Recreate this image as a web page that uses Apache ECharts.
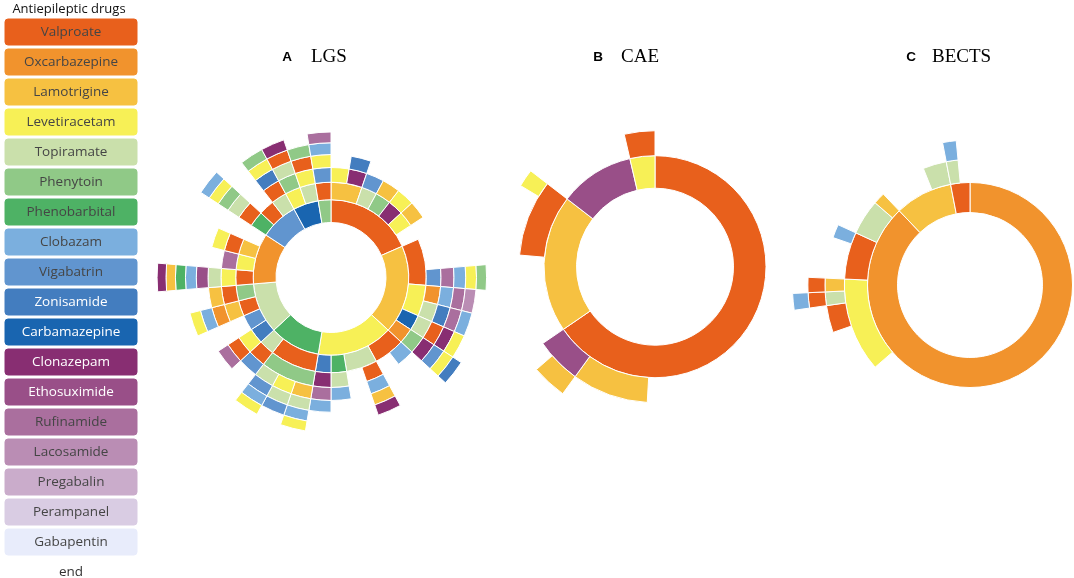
<!DOCTYPE html>
<html>
<head>
<meta charset="utf-8">
<script src="https://cdn.jsdelivr.net/npm/echarts/dist/echarts.min.js"></script>
<style>
  body { margin: 0; background: #fff; }
  #chart { width: 1074px; height: 578px; }
</style>
</head>
<body>
<div id="chart"></div>
<script>
// drug names and colours, in legend order
var drugs = ['Valproate', 'Oxcarbazepine', 'Lamotrigine', 'Levetiracetam', 'Topiramate', 'Phenytoin',
  'Phenobarbital', 'Clobazam', 'Vigabatrin', 'Zonisamide', 'Carbamazepine', 'Clonazepam',
  'Ethosuximide', 'Rufinamide', 'Lacosamide', 'Pregabalin', 'Perampanel', 'Gabapentin'];
var drugColors = ['#E8601C', '#F1932D', '#F6C141', '#F7F056', '#CAE0AB', '#90C987',
  '#4EB265', '#7BAFDE', '#6195CF', '#437DBF', '#1965B0', '#882E72',
  '#994F88', '#AA6F9E', '#BA8DB4', '#CAACCB', '#D9CCE3', '#E8ECFB'];
var whiteText = ['Zonisamide', 'Carbamazepine', 'Clonazepam', 'Ethosuximide'];

// treatment sequences (clockwise from 12 o'clock) and number of patients
var lgsRows = [
  ['Valproate-Lamotrigine-Levetiracetam-end', 1],
  ['Valproate-Lamotrigine-Clonazepam-Zonisamide-end', 1],
  ['Valproate-Topiramate-Vigabatrin-end', 1],
  ['Valproate-Phenytoin-Lamotrigine-end', 1],
  ['Valproate-Clonazepam-Levetiracetam-end', 1],
  ['Valproate-Levetiracetam-Lamotrigine-end', 1],
  ['Valproate-end', 1],
  ['Lamotrigine-Valproate-end', 2],
  ['Lamotrigine-Valproate-Vigabatrin-Rufinamide-Clobazam-Levetiracetam-Phenytoin-end', 1],
  ['Lamotrigine-Levetiracetam-Oxcarbazepine-Clobazam-Rufinamide-Lacosamide-end', 1],
  ['Lamotrigine-Levetiracetam-Topiramate-Zonisamide-Rufinamide-Clobazam-end', 1],
  ['Lamotrigine-Carbamazepine-Topiramate-Valproate-Clonazepam-Levetiracetam-end', 1],
  ['Lamotrigine-Oxcarbazepine-Phenytoin-Clonazepam-Vigabatrin-Levetiracetam-Zonisamide-end', 1],
  ['Levetiracetam-Valproate-Clobazam-end', 1],
  ['Levetiracetam-Valproate-end', 1],
  ['Levetiracetam-Topiramate-Valproate-Clobazam-Lamotrigine-Clonazepam-end', 1],
  ['Levetiracetam-Topiramate-end', 1],
  ['Levetiracetam-Phenobarbital-Topiramate-Clobazam-end', 1],
  ['Levetiracetam-Zonisamide-Clonazepam-Rufinamide-Clobazam-end', 1],
  ['Phenobarbital-Valproate-Phenytoin-Lamotrigine-Topiramate-Clobazam-Levetiracetam-end', 1],
  ['Phenobarbital-Valproate-Phenytoin-Levetiracetam-Topiramate-Vigabatrin-end', 1],
  ['Phenobarbital-Valproate-Phenytoin-Topiramate-Vigabatrin-Clobazam-Levetiracetam-end', 1],
  ['Phenobarbital-Topiramate-Valproate-Vigabatrin-end', 1],
  ['Topiramate-Zonisamide-Levetiracetam-Valproate-Rufinamide-end', 1],
  ['Topiramate-Vigabatrin-end', 1],
  ['Topiramate-Valproate-Lamotrigine-Oxcarbazepine-Clobazam-Levetiracetam-end', 1],
  ['Topiramate-Phenytoin-Valproate-Lamotrigine-end', 1],
  ['Oxcarbazepine-Valproate-Levetiracetam-Topiramate-Ethosuximide-Clobazam-Phenobarbital-Lamotrigine-Clonazepam', 1],
  ['Oxcarbazepine-Levetiracetam-Rufinamide-end', 1],
  ['Oxcarbazepine-Lamotrigine-Valproate-Levetiracetam-end', 1],
  ['Oxcarbazepine-end', 1],
  ['Vigabatrin-Phenobarbital-Valproate-Topiramate-Phenytoin-Levetiracetam-Clobazam-end', 1],
  ['Vigabatrin-Valproate-end', 1],
  ['Vigabatrin-Topiramate-Valproate-Zonisamide-Levetiracetam-Phenytoin-end', 1],
  ['Carbamazepine-Levetiracetam-Phenytoin-Topiramate-Valproate-Clonazepam-end', 1],
  ['Carbamazepine-Topiramate-Levetiracetam-Valproate-Phenytoin-end', 1],
  ['Phenytoin-Valproate-Vigabatrin-Levetiracetam-Clobazam-Rufinamide-end', 1]
];

var caeRows = [
  ['Valproate-end', 28],
  ['Valproate-Lamotrigine-end', 5],
  ['Valproate-Ethosuximide-Lamotrigine-end', 2],
  ['Valproate-Ethosuximide-end', 1],
  ['Lamotrigine-end', 6],
  ['Lamotrigine-Valproate-end', 4],
  ['Lamotrigine-Valproate-Levetiracetam-end', 1],
  ['Ethosuximide-end', 6],
  ['Levetiracetam-Valproate-end', 2]
];

var bectsRows = [
  ['Oxcarbazepine-end', 42],
  ['Oxcarbazepine-Levetiracetam-end', 4],
  ['Oxcarbazepine-Levetiracetam-Valproate-end', 2],
  ['Oxcarbazepine-Levetiracetam-Topiramate-Valproate-Clobazam-end', 1],
  ['Oxcarbazepine-Levetiracetam-Lamotrigine-Valproate-end', 1],
  ['Oxcarbazepine-Valproate-end', 3],
  ['Oxcarbazepine-Valproate-Clobazam-end', 1],
  ['Oxcarbazepine-Topiramate-end', 3],
  ['Oxcarbazepine-Lamotrigine-end', 1],
  ['Lamotrigine-end', 4],
  ['Lamotrigine-Topiramate-end', 2],
  ['Valproate-Topiramate-Clobazam-end', 1],
  ['Valproate-end', 1]
];

var panelTitles = [['A', 'LGS'], ['B', 'CAE'], ['C', 'BECTS']];

function colorOf(name) {
  var i = drugs.indexOf(name);
  return i < 0 ? 'rgba(0,0,0,0)' : drugColors[i];
}

function buildTree(rows) {
  var root = [];
  rows.forEach(function (row) {
    var parts = row[0].split('-');
    var level = root;
    parts.forEach(function (name, i) {
      var node = null;
      for (var k = 0; k < level.length; k++) {
        if (level[k].name === name) node = level[k];
      }
      if (!node) {
        node = {name: name, own: 0, children: []};
        level.push(node);
      }
      if (i === parts.length - 1) node.own += row[1];
      level = node.children;
    });
  });
  function finish(node) {
    var sum = node.own;
    node.children.forEach(function (c) { sum += finish(c); });
    node.value = sum;
    delete node.own;
    if (!node.children.length) delete node.children;
    if (node.name === 'end') {
      node.itemStyle = {color: 'rgba(0,0,0,0)', borderWidth: 0};
    } else {
      node.itemStyle = {color: colorOf(node.name)};
    }
    return sum;
  }
  root.forEach(finish);
  return root;
}

// ring radii grow with sqrt of depth
function ringLevels(c, depth) {
  var lv = [{}];
  for (var d = 1; d <= depth; d++) {
    lv.push({r0: c * Math.sqrt(d), r: c * Math.sqrt(d + 1)});
  }
  return lv;
}

function sunburst(rows, center, c, depth) {
  return {
    type: 'sunburst',
    center: center,
    sort: null,
    nodeClick: false,
    data: buildTree(rows),
    levels: ringLevels(c, depth),
    itemStyle: {borderColor: '#fff', borderWidth: 1},
    label: {show: false},
    emphasis: {disabled: true}
  };
}

var graphic = [];
graphic.push({type: 'text', x: 69, y: 9, style: {text: 'Antiepileptic drugs', font: '13px "Open Sans"',
  fill: '#111', textAlign: 'center', textVerticalAlign: 'middle'}});
drugs.forEach(function (name, i) {
  graphic.push({type: 'rect', shape: {x: 5, y: 19 + 30 * i, width: 132, height: 26, r: 3},
    style: {fill: drugColors[i], stroke: drugColors[i], lineWidth: 1}});
  graphic.push({type: 'text', x: 71, y: 32 + 30 * i, style: {text: name, font: '13.5px "Open Sans"',
    fill: whiteText.indexOf(name) >= 0 ? '#fff' : '#454545', textAlign: 'center', textVerticalAlign: 'middle'}});
});
graphic.push({type: 'text', x: 71, y: 572, style: {text: 'end', font: '13.5px "Open Sans"',
  fill: '#333', textAlign: 'center', textVerticalAlign: 'middle'}});

var titleX = [[287, 311], [598, 621], [911, 932]];
panelTitles.forEach(function (t, i) {
  graphic.push({type: 'text', x: titleX[i][0], y: 57, style: {text: t[0], font: 'bold 13.5px "Liberation Sans"',
    fill: '#000', textAlign: 'center', textVerticalAlign: 'middle'}});
  graphic.push({type: 'text', x: titleX[i][1], y: 57, style: {text: t[1], font: '19px "Liberation Serif"',
    fill: '#000', textAlign: 'left', textVerticalAlign: 'middle'}});
});

var chart = echarts.init(document.getElementById('chart'));
chart.setOption({
  animation: false,
  graphic: graphic,
  series: [
    sunburst(lgsRows, [331, 277.5], 55, 9),
    sunburst(caeRows, [655, 266.7], 78.5, 4),
    sunburst(bectsRows, [970, 285], 72.5, 6)
  ]
});
</script>
</body>
</html>
